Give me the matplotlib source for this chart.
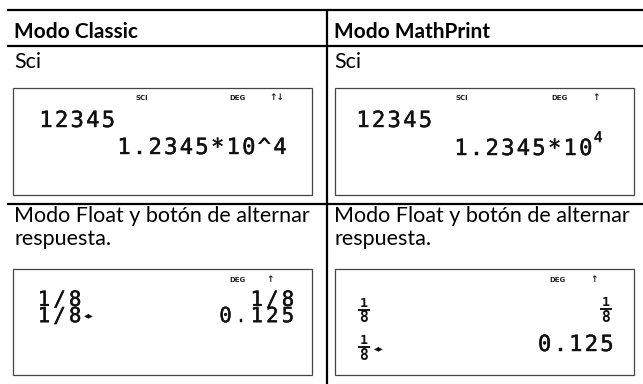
import matplotlib
matplotlib.use("Agg")
import matplotlib.pyplot as plt
import matplotlib.patheffects as pe
from matplotlib.patches import Rectangle

# ---- content ----
headers = ["Modo Classic", "Modo MathPrint"]
row1_label = "Sci"
row2_label = ["Modo Float y botón de alternar", "respuesta."]
sci_input = "12345"
sci_classic_result = "1.2345*10^4"
sci_math_base = "1.2345*10"
sci_math_exp = "4"
status_top_classic = ["SCI", "DEG", "↑↓"]
status_top_math = ["SCI", "DEG", "↑"]
status_bottom = ["DEG", "↑"]
frac_text = "1∕8"
frac_num, frac_den = "1", "8"
toggle = "◂▸"
float_result = "0.125"

W, H = 643, 384
fig = plt.figure(figsize=(W / 100, H / 100), dpi=100)
ax = fig.add_axes([0, 0, 1, 1])
ax.set_xlim(0, W)
ax.set_ylim(H, 0)
ax.axis("off")

TXT = "Lato"
LCD = "DejaVu Sans Mono"
PITCH = 15.6
GLYPH = 12.0
INK = "#111111"
BOLDEN = [pe.withStroke(linewidth=0.3, foreground=INK)]

# table lines
lw_t = 1.6
for y in (9.5, 45.5, 203.5):
    ax.plot([7, W], [y, y], color="black", lw=lw_t, solid_capstyle="butt")
ax.plot([327, 327], [9, H], color="black", lw=lw_t, solid_capstyle="butt")

# cell text
for x, h in zip((14, 334), headers):
    ax.text(x, 37.5, h, fontsize=15, fontweight="bold", family=TXT, va="baseline", ha="left")
for x in (14, 334):
    ax.text(x, 68, row1_label, fontsize=15.5, family=TXT, va="baseline", ha="left")
    ax.text(x, 222, row2_label[0], fontsize=15.5, family=TXT, va="baseline", ha="left")
    ax.text(x, 245, row2_label[1], fontsize=15.5, family=TXT, va="baseline", ha="left")

# screen boxes
for (x0, x1, y0, y1) in [(13, 312, 88, 195), (335, 634, 88, 195),
                         (13, 312, 269, 375), (335, 634, 269, 375)]:
    ax.add_patch(Rectangle((x0, y0), x1 - x0, y1 - y0, fill=False,
                           edgecolor="#444444", lw=0.9))


def status(xc, y, s, size=5.0):
    ax.text(xc, y, s, fontsize=size, fontweight="bold", family="DejaVu Sans",
            va="center", ha="center", color="#222222")


def lcd(x, base, s, align="left", size=16, pitch=PITCH):
    n = len(s)
    if align == "right":
        x = x - GLYPH - (n - 1) * pitch
    for i, ch in enumerate(s):
        ax.text(x + GLYPH / 2 + i * pitch, base, ch, fontsize=size, family=LCD,
                va="baseline", ha="center", color=INK, path_effects=BOLDEN)
    return x + GLYPH + (n - 1) * pitch


def lcd_two(x_right_or_left, yc, top, bottom, align="left", size=15, pitch=PITCH,
            gap_px=16.0):
    """Two tightly stacked LCD lines drawn column by column as 2-line texts."""
    n = max(len(top), len(bottom))
    if align == "right":
        top, bottom = top.rjust(n), bottom.rjust(n)
        x = x_right_or_left - GLYPH - (n - 1) * pitch
    else:
        top, bottom = top.ljust(n), bottom.ljust(n)
        x = x_right_or_left
    ls = gap_px / (size * 100 / 72)
    for i in range(n):
        ax.text(x + GLYPH / 2 + i * pitch, yc, top[i] + "\n" + bottom[i],
                fontsize=size, family=LCD, va="center", ha="center",
                multialignment="center", linespacing=ls, color=INK,
                path_effects=BOLDEN)


# top-left screen
for xc, s in zip((142, 238, 277), status_top_classic):
    status(xc, 98, s, 5.0 if len(s) > 2 else 6.5)
lcd(40, 127, sci_input)
lcd(118, 154, sci_classic_result)

# top-right screen
for xc, s in zip((462, 559, 596), status_top_math):
    status(xc, 98, s, 5.0 if len(s) > 2 else 6.5)
lcd(357, 127, sci_input)
xe = lcd(455, 155, sci_math_base)
ax.text(xe + 2, 142, sci_math_exp, fontsize=10.5, family=LCD, va="baseline", ha="left",
        color=INK, path_effects=BOLDEN)

# bottom-left screen
for xc, s in zip((237, 270), status_bottom):
    status(xc, 280, s, 5.0 if len(s) > 2 else 6.5)
lcd_two(38, 308, frac_text, frac_text, align="left")
ax.text(84, 315, toggle, fontsize=7, family="DejaVu Sans", va="center", ha="left",
        color=INK)
lcd_two(294, 308, frac_text, float_result, align="right")

# bottom-right screen
for xc, s in zip((558, 594), status_bottom):
    status(xc, 280, s, 5.0 if len(s) > 2 else 6.5)


def stacked(xc, ybar):
    ax.text(xc, ybar - 6.5, frac_num, fontsize=9.5, fontweight="bold", family=LCD,
            va="center", ha="center", color=INK)
    ax.plot([xc - 5, xc + 5], [ybar, ybar], color=INK, lw=1.4)
    ax.text(xc, ybar + 8, frac_den, fontsize=10.5, fontweight="bold", family=LCD,
            va="center", ha="center", color=INK)


stacked(364, 310)
stacked(364, 347)
stacked(606, 309)
ax.text(374, 348, toggle, fontsize=7, family="DejaVu Sans", va="center", ha="left",
        color=INK)
lcd(613, 351, float_result, align="right")

fig.savefig("out.png", dpi=100)
